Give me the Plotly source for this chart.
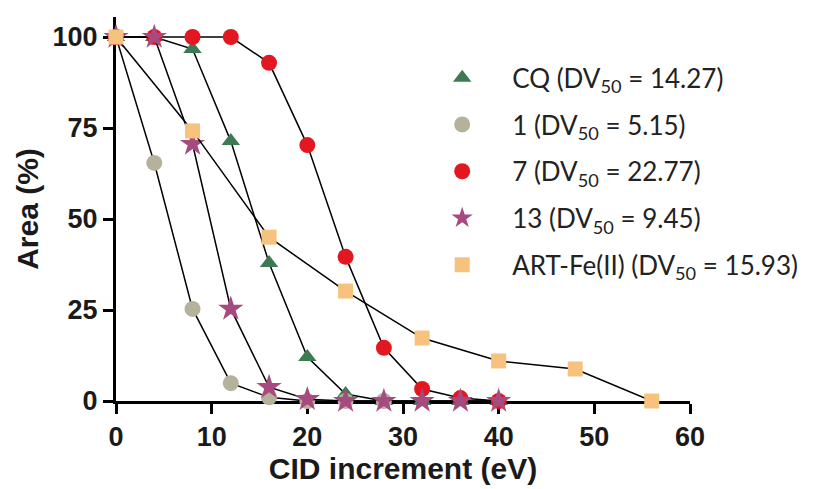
import plotly.graph_objects as go

# Data
cid_cq = [0, 4, 8, 12, 16, 20, 24, 28, 32, 36, 40]
area_cq = [100, 100, 96.7, 71.4, 37.9, 12.1, 1.9, 0, 0, 0, 0]

cid_1 = [0, 4, 8, 12, 16, 20, 24, 28]
area_1 = [100, 65.4, 25.3, 4.9, 1.0, 0, 0, 0]

cid_7 = [0, 4, 8, 12, 16, 20, 24, 28, 32, 36, 40]
area_7 = [100, 100, 100, 100, 92.9, 70.3, 39.6, 14.6, 3.3, 0.8, 0]

cid_13 = [0, 4, 8, 12, 16, 20, 24, 28, 32, 36, 40]
area_13 = [100, 100, 70.6, 25.3, 3.8, 0.5, 0, 0, 0, 0, 0]

cid_art = [0, 8, 16, 24, 32, 40, 48, 56]
area_art = [100, 74.2, 45, 30.2, 17.3, 11, 8.8, 0]

names = [
    "CQ (DV<sub>50</sub> = 14.27)",
    "1 (DV<sub>50</sub> = 5.15)",
    "7 (DV<sub>50</sub> = 22.77)",
    "13 (DV<sub>50</sub> = 9.45)",
    "ART-Fe(II) (DV<sub>50</sub> = 15.93)",
]
xs = [cid_cq, cid_1, cid_7, cid_13, cid_art]
ys = [area_cq, area_1, area_7, area_13, area_art]
symbols = ["triangle-up", "circle", "circle", "star", "square"]
colors = ["#3d7a52", "#b5b19b", "#e3171f", "#a64a80", "#f6c27e"]
sizes = [16, 16, 16, 19, 15]

fig = go.Figure()
for i in range(5):
    fig.add_trace(go.Scatter(
        x=xs[i], y=ys[i], mode="lines", showlegend=False, hoverinfo="skip",
        line=dict(color="black", width=1.5), cliponaxis=False,
    ))
    fig.add_trace(go.Scatter(
        x=xs[i], y=ys[i], name=names[i], mode="markers",
        marker=dict(symbol=symbols[i], color=colors[i], size=sizes[i], line=dict(width=0)),
        cliponaxis=False, legendgroup=str(i),
    ))

tick_font = dict(family="Liberation Sans", size=27, color="#1a1a1a", weight="bold")
title_font = dict(family="Liberation Sans", size=30, color="#1a1a1a", weight="bold")
fig.update_layout(
    width=830, height=489,
    margin=dict(l=108, r=148, t=9, b=96),
    plot_bgcolor="white", paper_bgcolor="white",
    showlegend=True,
    legend=dict(
        x=0.516, y=0.903, xanchor="left", yanchor="top",
        font=dict(family="Lato", size=26, color="#222222"),
        tracegroupgap=10, itemwidth=90, bgcolor="rgba(0,0,0,0)",
    ),
    xaxis=dict(
        range=[0, 60], tickvals=[0, 10, 20, 30, 40, 50, 60],
        showline=True, linecolor="black", linewidth=3, layer="below traces",
        ticks="outside", ticklen=10, tickwidth=3, tickcolor="black",
        showgrid=False, zeroline=False, automargin=False,
        tickfont=tick_font,
        title=dict(text="CID increment (eV)", font=title_font, standoff=6),
    ),
    yaxis=dict(
        range=[0, 105.5], tickvals=[0, 25, 50, 75, 100],
        showline=True, linecolor="black", linewidth=3, layer="below traces",
        ticks="outside", ticklen=10, tickwidth=3, tickcolor="black",
        showgrid=False, zeroline=False, automargin=False,
        tickfont=tick_font,
        title=dict(text="Area (%)", font=title_font, standoff=6),
    ),
)

fig.write_html("out.html")
